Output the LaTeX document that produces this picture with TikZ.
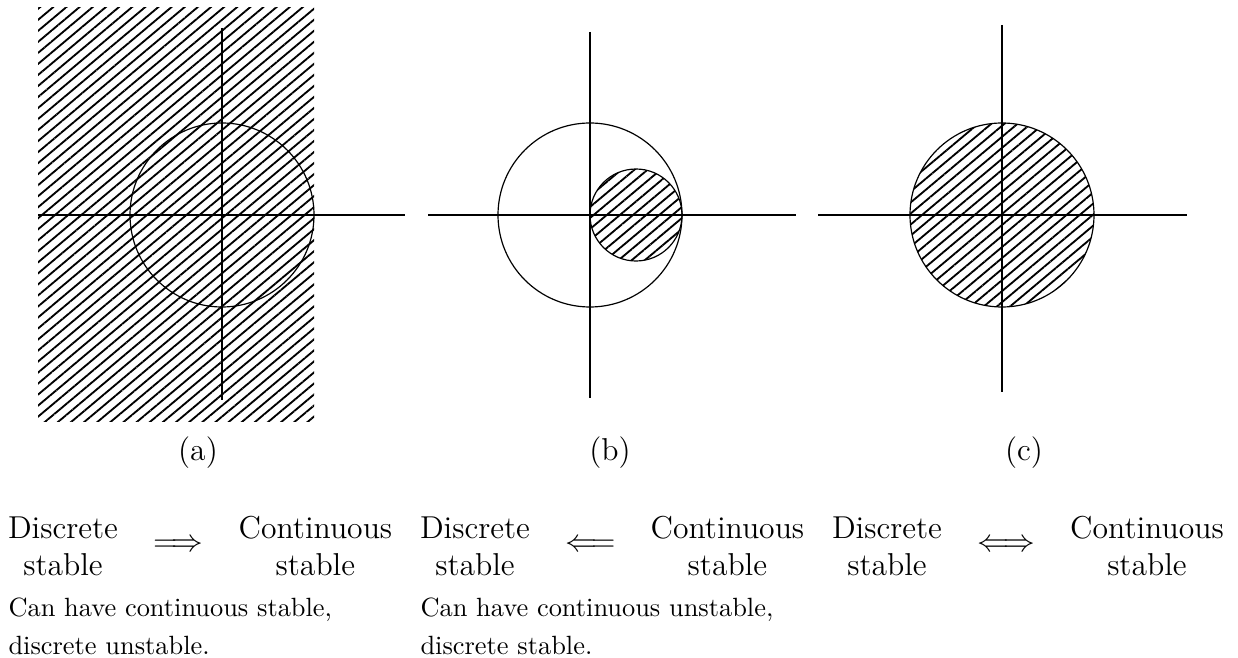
\documentclass[tikz,border=0pt]{standalone}
\usetikzlibrary{patterns.meta, positioning}

\begin{document}
\begin{tikzpicture}[
    x=0.379pt, y=0.379pt,
    node distance=12.9pt,
    axis/.style={line width=0.6pt},
    rim/.style={line width=0.45pt},
    hatch/.style={pattern={Lines[angle=40, distance=3.2pt, line width=0.7pt]}},
    word/.style={font=\large, align=center, inner sep=0pt},
    note/.style={font=\normalsize, align=left, inner sep=0pt, anchor=north west},
    tag/.style={font=\large, anchor=base},
  ]
  \useasboundingbox (0,0) rectangle (1238,658);

  % (a) continuous stable region mapped
  \fill[hatch] (38,236) rectangle (314,650);
  \draw[axis] (38,443) -- (405,443);
  \draw[axis] (222,630) -- (222,258);
  \draw[rim] (222,443) circle[radius=92];
  \node[tag] (capa) at (198,197) {(a)};

  % (b)
  \draw[rim, hatch] (636,443) circle[radius=46];
  \draw[rim] (590,443) circle[radius=92];
  \draw[axis] (428,443) -- (796,443);
  \draw[axis] (590,626) -- (590,260);
  \node[tag] (capb) at (610,197) {(b)};

  % (c)
  \draw[rim, hatch] (1002,443) circle[radius=92];
  \draw[axis] (818,443) -- (1187,443);
  \draw[axis] (1002,633) -- (1002,266);
  \node[tag] (capc) at (1024,197) {(c)};

  % implications
  \node[word] (disc1) at (63,112) {Discrete\\stable};
  \node[word, right=of disc1] (imp1) {$\Longrightarrow$};
  \node[word, right=of imp1] (cont1) {Continuous\\stable};
  \node[note] (note1) at (8,61) {Can have continuous stable,\\[2.4pt]discrete unstable.};

  \node[word] (disc2) at (475,112) {Discrete\\stable};
  \node[word, right=of disc2] (imp2) {$\Longleftarrow$};
  \node[word, right=of imp2] (cont2) {Continuous\\stable};
  \node[note] (note2) at (420,61) {Can have continuous unstable,\\[2.4pt]discrete stable.};

  \node[word] (disc3) at (887,112) {Discrete\\stable};
  \node[word, right=of disc3] (imp3) {$\Longleftrightarrow$};
  \node[word, right=of imp3] (cont3) {Continuous\\stable};
\end{tikzpicture}
\end{document}
